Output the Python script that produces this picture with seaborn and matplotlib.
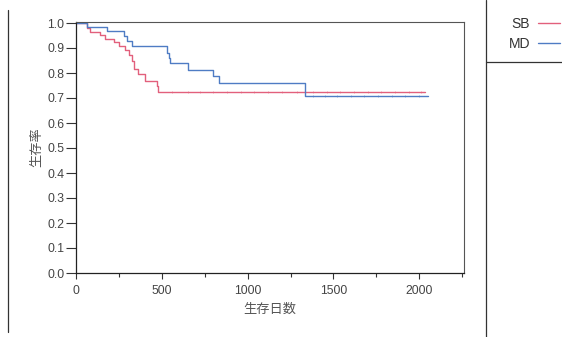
import matplotlib
matplotlib.use("Agg")
import matplotlib.pyplot as plt
from matplotlib.lines import Line2D
import seaborn as sns
import pandas as pd

# ---- data ----
groups = ["SB", "MD"]
sb_times = [0, 64, 83, 140, 169, 220, 249, 287, 306, 325, 340, 363, 402, 470, 480, 2034]
sb_surv = [1.0, 0.980, 0.964, 0.951, 0.937, 0.924, 0.907, 0.891, 0.871, 0.849, 0.816, 0.796, 0.769, 0.749, 0.724, 0.724]
md_times = [0, 64, 181, 280, 297, 329, 530, 540, 548, 654, 800, 833, 1334, 2051]
md_surv = [1.0, 0.985, 0.968, 0.948, 0.928, 0.908, 0.882, 0.862, 0.840, 0.813, 0.789, 0.762, 0.707, 0.707]
sb_censor = [560, 650, 720, 800, 880, 960, 1040, 1120, 1200, 1290, 1380, 1460, 1540, 1620, 1700, 1780, 1860, 1940, 2010]
md_censor = [1380, 1450, 1520, 1600, 1680, 1760, 1840, 1920, 2000]
x_ticks = [0, 500, 1000, 1500, 2000]
y_ticks = [0.0, 0.1, 0.2, 0.3, 0.4, 0.5, 0.6, 0.7, 0.8, 0.9, 1.0]
x_label = "生存日数"
y_label = "生存率"

colors = {"SB": "#e2607c", "MD": "#4f7cc4"}

df = pd.concat([
    pd.DataFrame({"time": sb_times, "surv": sb_surv, "group": "SB"}),
    pd.DataFrame({"time": md_times, "surv": md_surv, "group": "MD"}),
], ignore_index=True)


def level_at(times, surv, t):
    val = surv[0]
    for ti, si in zip(times, surv):
        if ti <= t:
            val = si
    return val


cens = pd.DataFrame({
    "time": sb_censor + md_censor,
    "surv": [level_at(sb_times, sb_surv, t) for t in sb_censor]
            + [level_at(md_times, md_surv, t) for t in md_censor],
    "group": ["SB"] * len(sb_censor) + ["MD"] * len(md_censor),
})

sns.set_style("ticks")
plt.rcParams["font.family"] = ["Liberation Sans", "Noto Sans CJK JP", "DejaVu Sans"]

W, H = 562, 337
fig = plt.figure(figsize=(W / 100, H / 100), dpi=100)
ax = fig.add_axes([76 / W, 1 - 273 / H, (464 - 76) / W, (273 - 22) / H])

sns.lineplot(data=df, x="time", y="surv", hue="group", palette=colors,
             estimator=None, drawstyle="steps-post", linewidth=1.0,
             legend=False, ax=ax)
for g in groups:
    sub = cens[cens["group"] == g]
    ax.plot(sub["time"], sub["surv"], linestyle="none", marker="|",
            markersize=1.8, markeredgewidth=0.5, color=colors[g], alpha=0.7)

ax.set_xlim(0, 2261)
ax.set_ylim(0, 1.004)
ax.set_xticks(x_ticks)
ax.set_xticks([250, 750, 1250, 1750, 2250], minor=True)
ax.set_yticks(y_ticks)
ax.set_yticklabels([f"{v:.1f}" for v in y_ticks])
ax.tick_params(axis="both", which="major", width=0.8, labelsize=8.8,
               colors="#333333", labelcolor="#444444")
ax.tick_params(axis="y", which="major", length=7, pad=1.5)
ax.tick_params(axis="x", which="major", length=4, pad=5)
ax.tick_params(axis="x", which="minor", length=3, width=0.8, colors="#333333")
ax.set_xlabel(x_label, fontsize=9.5, color="#555555", labelpad=4,
              family=["Noto Sans CJK JP", "DejaVu Sans"])
ax.set_ylabel(y_label, fontsize=9.5, color="#555555", labelpad=3,
              family=["Noto Sans CJK JP", "DejaVu Sans"])
for s in ["left", "bottom"]:
    ax.spines[s].set_color("#222222")
    ax.spines[s].set_linewidth(0.9)
for s in ["top", "right"]:
    ax.spines[s].set_visible(True)
    ax.spines[s].set_color("#555555")
    ax.spines[s].set_linewidth(0.8)

# report frame lines
fig.add_artist(Line2D([8 / W, 8 / W], [1 - 10 / H, 1 - 332 / H], color="#333333", lw=0.9))
fig.add_artist(Line2D([486 / W, 486 / W], [1.0, 0.0], color="#333333", lw=0.9))
fig.add_artist(Line2D([486 / W, 1.0], [1 - 62 / H, 1 - 62 / H], color="#333333", lw=0.9))

# legend
for i, g in enumerate(groups):
    yy = 1 - (24 + 20 * i) / H
    fig.text(530 / W, yy, g, ha="right", va="center", fontsize=10, color="#333333")
    fig.add_artist(Line2D([538 / W, 560 / W], [yy + 1 / H, yy + 1 / H], color=colors[g], lw=1.0))

fig.savefig("out.png", dpi=100)
